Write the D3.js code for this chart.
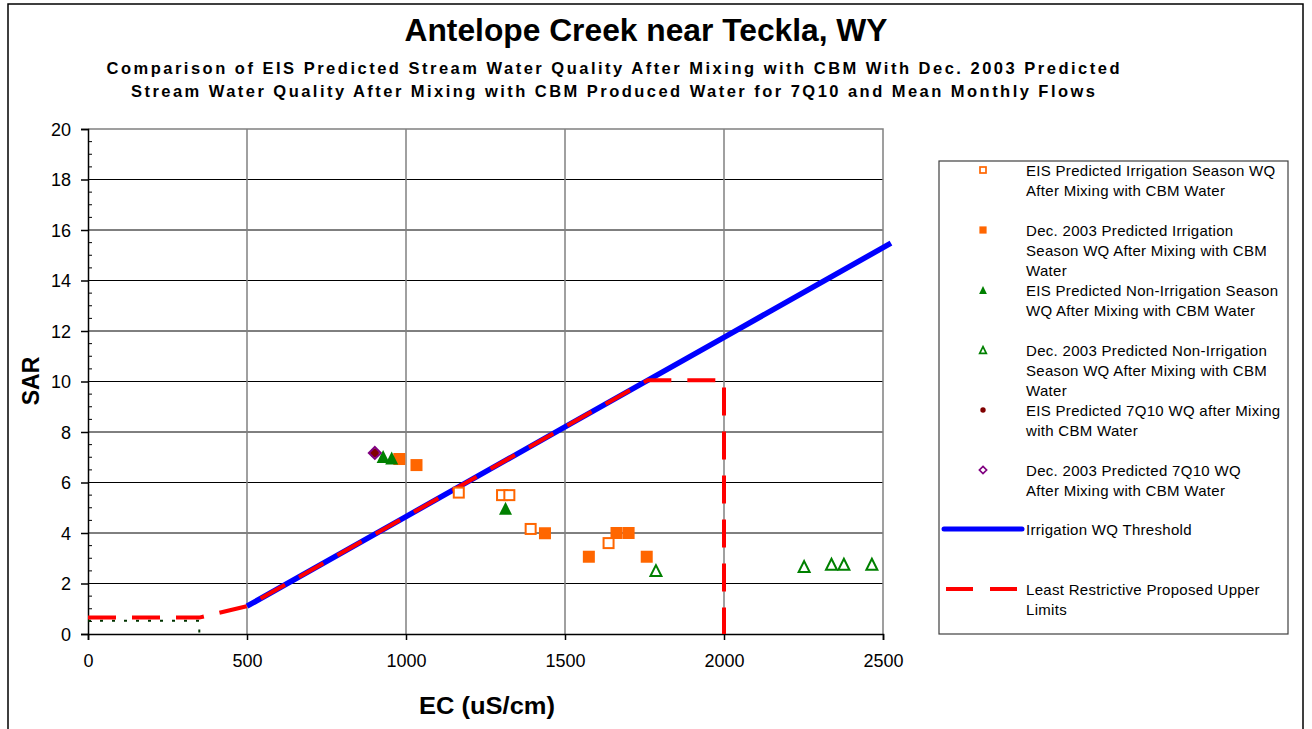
<!DOCTYPE html>
<html>
<head>
<meta charset="utf-8">
<script src="https://cdn.jsdelivr.net/npm/d3@7"></script>
<style>
  body { margin: 0; background: #fff; }
  svg { display: block; font-family: "Liberation Sans", Arial, sans-serif; }
</style>
</head>
<body>
<svg id="chart" width="1312" height="729"></svg>
<script>
// ---------- DATA ----------
const xTicks = [0, 500, 1000, 1500, 2000, 2500];
const yTicks = [0, 2, 4, 6, 8, 10, 12, 14, 16, 18, 20];
const yMinorTicks = d3.range(0, 20.01, 0.5);

// [EC, SAR]
const eisIrrigation = [[1166, 5.6], [1302, 5.5], [1325, 5.5], [1392, 4.16], [1637, 3.6]];
const dec2003Irrigation = [[979, 6.93], [1033, 6.69], [1437, 3.99], [1575, 3.06], [1662, 4.0], [1700, 4.0], [1757, 3.06]];
const eisNonIrrigation = [[928, 7.03], [955, 6.97], [1313, 4.98]];
const dec2003NonIrrigation = [[1786, 2.51], [2252, 2.67], [2338, 2.76], [2377, 2.76], [2465, 2.76]];
const eis7Q10 = [[901, 7.17]];
const dec2003_7Q10 = [[902, 7.17]];
const irrigationThreshold = [[500, 1.1], [1000, 4.65], [1500, 8.2], [2000, 11.75], [2525, 15.48]];
const upperLimits = [[0, 0.65], [350, 0.65], [500, 1.1], [1760, 10.05], [2000, 10.05], [2000, 0]];
const lowLimitDotted = [[0, 0.52], [350, 0.52], [350, 0]];

const legendItems = [
  { key: "openSquare", lines: ["EIS Predicted Irrigation Season WQ", "After Mixing with CBM Water"] },
  { key: "filledSquare", lines: ["Dec. 2003 Predicted Irrigation", "Season WQ After Mixing with CBM", "Water"] },
  { key: "filledTriangle", lines: ["EIS Predicted Non-Irrigation Season", "WQ After Mixing with CBM Water"] },
  { key: "openTriangle", lines: ["Dec.  2003 Predicted Non-Irrigation", "Season WQ After Mixing with CBM", "Water"] },
  { key: "circle", lines: ["EIS Predicted 7Q10 WQ after Mixing", "with CBM Water"] },
  { key: "diamond", lines: ["Dec. 2003 Predicted 7Q10 WQ", "After Mixing with CBM Water"] },
  { key: "blueLine", lines: ["Irrigation WQ Threshold"] },
  { key: "redDash", lines: ["Least Restrictive Proposed Upper", "Limits"] }
];

// ---------- LAYOUT ----------
const svg = d3.select("#chart");
const L = 88, R = 883, T = 129, B = 634;
const x = d3.scaleLinear().domain([0, 2500]).range([L, R]);
const y = d3.scaleLinear().domain([0, 20]).range([B, T]);

const ORANGE = "#FF6600", GREEN = "#008000", DARKRED = "#800000", PURPLE = "#800080";

// outer frame
svg.append("rect").attr("x", 8).attr("y", 4).attr("width", 1295).attr("height", 740)
  .attr("fill", "none").attr("stroke", "#000").attr("stroke-width", 1.5);

// titles
svg.append("text").attr("x", 646).attr("y", 41).attr("text-anchor", "middle")
  .attr("font-size", 31).attr("font-weight", "bold")
  .attr("textLength", 483).attr("lengthAdjust", "spacingAndGlyphs")
  .text("Antelope Creek near Teckla, WY");
svg.append("text").attr("x", 613).attr("y", 74).attr("text-anchor", "middle")
  .attr("font-size", 16.5).attr("font-weight", "bold")
  .attr("textLength", 1013).attr("lengthAdjust", "spacing")
  .text("Comparison of EIS Predicted Stream Water Quality After Mixing with CBM With Dec. 2003 Predicted");
svg.append("text").attr("x", 613).attr("y", 97).attr("text-anchor", "middle")
  .attr("font-size", 16.5).attr("font-weight", "bold")
  .attr("textLength", 964).attr("lengthAdjust", "spacing")
  .text("Stream Water Quality After Mixing with CBM Produced Water for 7Q10 and Mean Monthly Flows");

// gridlines
const g = svg.append("g");
g.selectAll("line.hgrid").data(yTicks.filter(d => d > 0 && d < 20)).join("line")
  .attr("x1", L).attr("x2", R).attr("y1", d => y(d)).attr("y2", d => y(d))
  .attr("stroke", "#000").attr("stroke-width", 1);
g.selectAll("line.vgrid").data(xTicks.filter(d => d > 0 && d < 2500)).join("line")
  .attr("x1", d => x(d)).attr("x2", d => x(d)).attr("y1", T).attr("y2", B)
  .attr("stroke", "#808080").attr("stroke-width", 1.5);
// plot border top/right (gray)
g.append("path").attr("d", `M${L},${T}H${R}V${B}`).attr("fill", "none")
  .attr("stroke", "#808080").attr("stroke-width", 1.5);

// axes
const xAxis = d3.axisBottom(x).tickValues(xTicks).tickSize(6).tickPadding(14).tickFormat(d3.format("d"));
const gx = svg.append("g").attr("transform", `translate(0,${B})`).call(xAxis);
gx.select(".domain").attr("stroke", "#000").attr("stroke-width", 1.5);
gx.selectAll(".tick line").attr("stroke", "#000").attr("stroke-width", 1.5);
gx.selectAll(".tick text").attr("font-size", 18).attr("fill", "#000")
  .attr("font-family", "Liberation Sans, Arial, sans-serif");

const yAxis = d3.axisLeft(y).tickValues(yTicks).tickSize(7).tickPadding(10).tickFormat(d3.format("d"));
const gy = svg.append("g").attr("transform", `translate(${L},0)`).call(yAxis);
gy.select(".domain").attr("stroke", "#000").attr("stroke-width", 1.5);
gy.selectAll(".tick line").attr("stroke", "#000").attr("stroke-width", 1.5);
gy.selectAll(".tick text").attr("font-size", 18).attr("fill", "#000").attr("dy", "0.35em")
  .attr("font-family", "Liberation Sans, Arial, sans-serif");
// minor ticks inside
svg.append("g").selectAll("line").data(yMinorTicks.filter(d => d % 2 !== 0)).join("line")
  .attr("x1", L).attr("x2", L + 4).attr("y1", d => y(d)).attr("y2", d => y(d))
  .attr("stroke", "#000").attr("stroke-width", 1);

// axis titles
svg.append("text").attr("transform", `translate(39,381) rotate(-90)`).attr("text-anchor", "middle")
  .attr("font-size", 23).attr("font-weight", "bold").text("SAR");
svg.append("text").attr("x", 487).attr("y", 714).attr("text-anchor", "middle")
  .attr("font-size", 23).attr("font-weight", "bold")
  .attr("textLength", 136).attr("lengthAdjust", "spacingAndGlyphs").text("EC (uS/cm)");

// lines
const line = d3.line().x(d => x(d[0])).y(d => y(d[1]));
svg.append("path").datum(lowLimitDotted).attr("d", line).attr("fill", "none")
  .attr("stroke", "#003300").attr("stroke-width", 2).attr("stroke-dasharray", "3,9");
svg.append("path").datum(irrigationThreshold).attr("d", line).attr("fill", "none")
  .attr("stroke", "#0000FF").attr("stroke-width", 5.5);
svg.append("path").datum(upperLimits).attr("d", line).attr("fill", "none")
  .attr("stroke", "#FF0000").attr("stroke-width", 4).attr("stroke-dasharray", "28,16");

// marker shapes
function marker(sel, key, scale) {
  const s = scale || 1;
  if (key === "openSquare") {
    const a = 5 * s;
    sel.append("rect").attr("x", -a).attr("y", -a).attr("width", 2 * a).attr("height", 2 * a)
      .attr("fill", "#fff").attr("stroke", ORANGE).attr("stroke-width", 2 * Math.min(1, s + 0.25));
  } else if (key === "filledSquare") {
    const a = 6 * s;
    sel.append("rect").attr("x", -a).attr("y", -a).attr("width", 2 * a).attr("height", 2 * a)
      .attr("fill", ORANGE).attr("stroke", "none");
  } else if (key === "filledTriangle") {
    const w = 6.5 * s, h = 6.5 * s;
    sel.append("path").attr("d", `M0,${-h}L${w},${h}L${-w},${h}Z`).attr("fill", GREEN);
  } else if (key === "openTriangle") {
    const w = 5.5 * s, h = 5.5 * s;
    sel.append("path").attr("d", `M0,${-h}L${w},${h}L${-w},${h}Z`).attr("fill", "#fff")
      .attr("stroke", GREEN).attr("stroke-width", 2 * Math.min(1, s + 0.25));
  } else if (key === "circle") {
    sel.append("circle").attr("r", 4.5 * s).attr("fill", DARKRED);
  } else if (key === "diamond") {
    const a = 6 * s;
    sel.append("path").attr("d", `M0,${-a}L${a},0L0,${a}L${-a},0Z`).attr("fill", "none")
      .attr("stroke", PURPLE).attr("stroke-width", 2 * Math.min(1, s + 0.25));
  }
}

function drawSeries(data, key) {
  svg.append("g").selectAll("g").data(data).join("g")
    .attr("transform", d => `translate(${x(d[0])},${y(d[1])})`)
    .each(function () { marker(d3.select(this), key, 1); });
}
drawSeries(eisIrrigation, "openSquare");
drawSeries(dec2003Irrigation, "filledSquare");
drawSeries(eisNonIrrigation, "filledTriangle");
drawSeries(dec2003NonIrrigation, "openTriangle");
drawSeries(eis7Q10, "circle");
drawSeries(dec2003_7Q10, "diamond");

// legend
svg.append("rect").attr("x", 939).attr("y", 161).attr("width", 349).attr("height", 473)
  .attr("fill", "#fff").attr("stroke", "#404040").attr("stroke-width", 1.2);
const legendY = [170, 230, 290, 350, 410, 470, 529, 589];
legendItems.forEach((item, i) => {
  const cy = legendY[i];
  if (item.key === "blueLine") {
    svg.append("line").attr("x1", 944).attr("x2", 1022).attr("y1", cy).attr("y2", cy)
      .attr("stroke", "#0000FF").attr("stroke-width", 5).attr("stroke-linecap", "round");
  } else if (item.key === "redDash") {
    svg.append("line").attr("x1", 946).attr("x2", 1018).attr("y1", cy).attr("y2", cy)
      .attr("stroke", "#FF0000").attr("stroke-width", 4).attr("stroke-dasharray", "27,17");
  } else {
    const mg = svg.append("g").attr("transform", `translate(983,${cy})`);
    marker(mg, item.key, 0.6);
  }
  const t = svg.append("text").attr("x", 1026).attr("y", cy + 5.5)
    .attr("font-size", 15).attr("letter-spacing", 0.3).attr("fill", "#000");
  item.lines.forEach((ln, j) => {
    t.append("tspan").attr("x", 1026).attr("y", cy + 5.5 + j * 20).text(ln);
  });
});
</script>
</body>
</html>
